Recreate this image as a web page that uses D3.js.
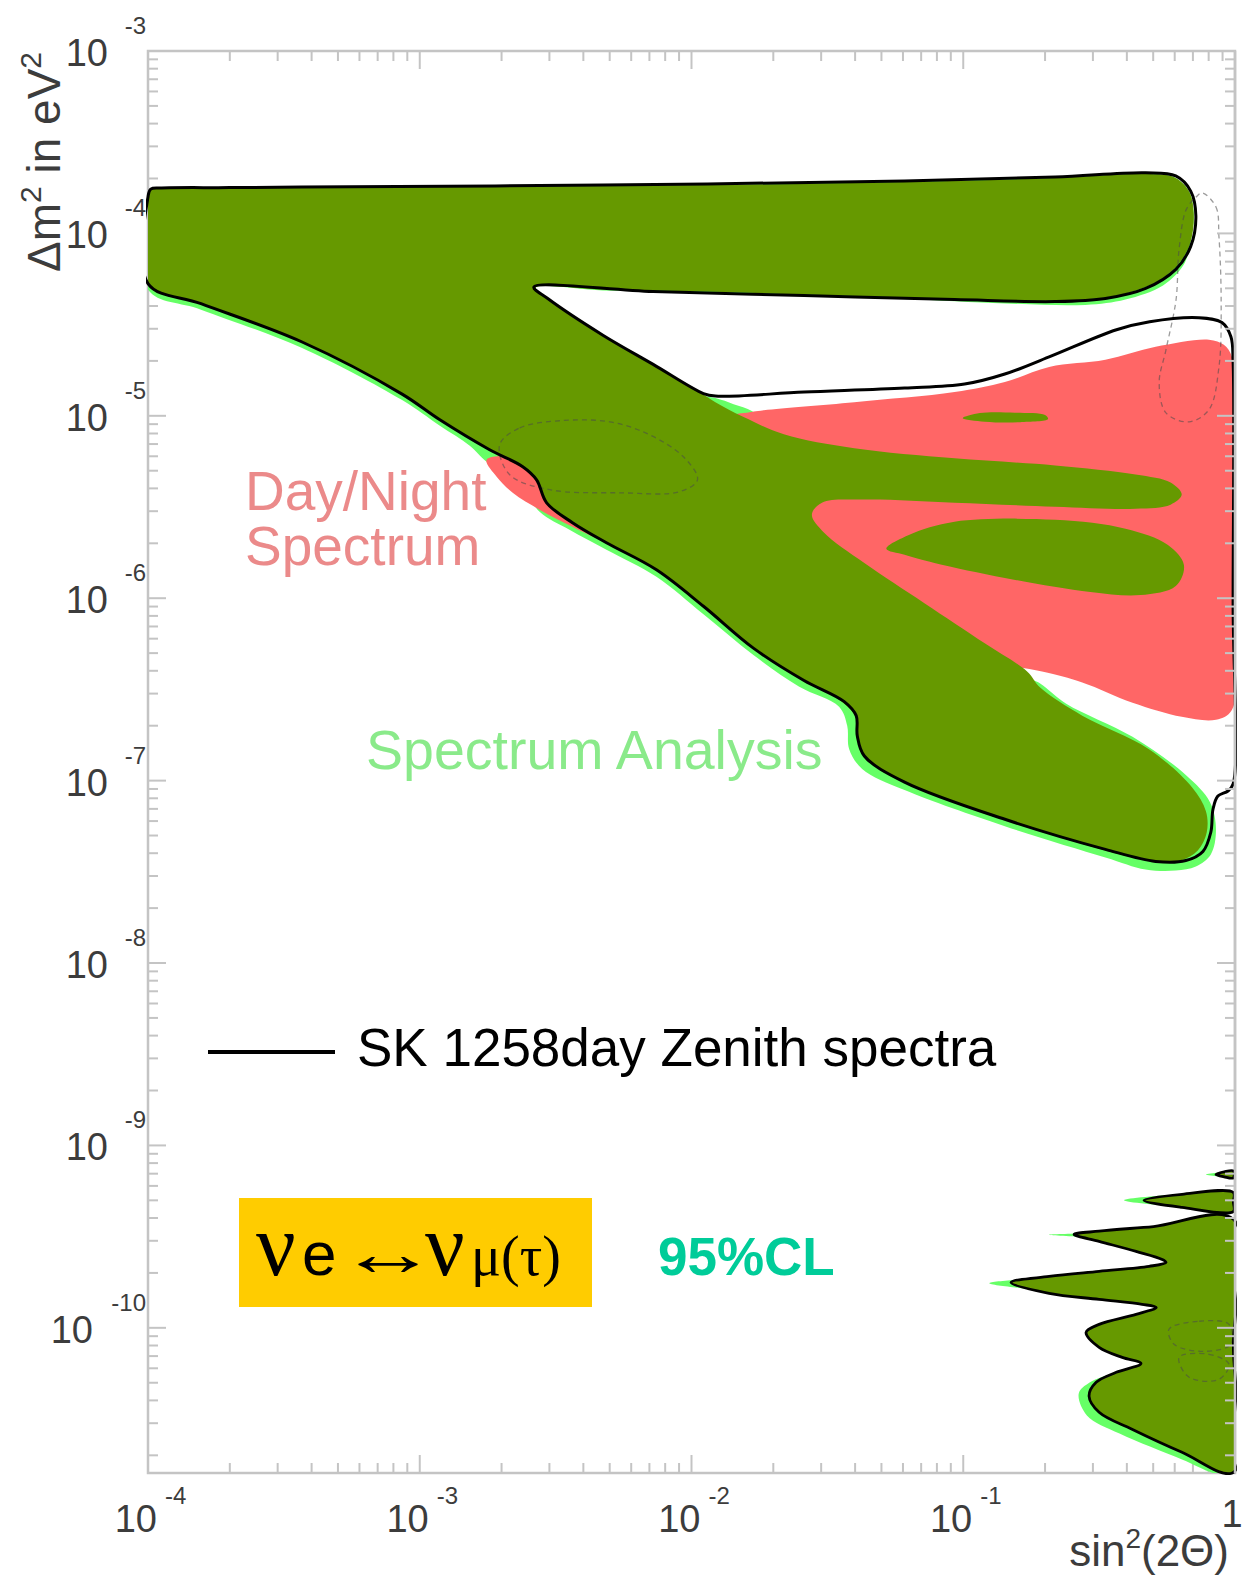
<!DOCTYPE html>
<html>
<head>
<meta charset="utf-8">
<script src="https://cdn.jsdelivr.net/npm/d3@7"></script>
<style>
  html, body { margin: 0; padding: 0; background: #fff; }
  svg { display: block; }
  text { font-family: "Liberation Sans", Arial, sans-serif; }
</style>
</head>
<body>
<svg id="chart" width="1244" height="1577"></svg>
<script>
// ---- axis ranges -------------------------------------------------------
const xDomain = [1e-4, 1];          // sin²(2Θ)
const yDomain = [1.6e-11, 1e-3];    // Δm² in eV²
const xDecades = [-4, -3, -2, -1, 0];
const yDecades = [-3, -4, -5, -6, -7, -8, -9, -10];

// ---- allowed-region contours, vertices as [log10 sin²2Θ, log10 Δm²] ----
// Spectrum analysis, outer (light green) boundary
const spectrumLight = [
  [-4.000,-3.790],[-3.985,-3.758],[-3.950,-3.753],[-3.700,-3.750],[-3.435,-3.746],[-1.956,-3.735],
  [-0.662,-3.696],[-0.329,-3.674],[-0.226,-3.691],[-0.170,-3.768],[-0.152,-3.889],[-0.163,-4.043],
  [-0.190,-4.175],[-0.265,-4.285],[-0.403,-4.362],[-0.551,-4.392],[-0.847,-4.384],[-1.216,-4.360],
  [-1.586,-4.341],[-1.956,-4.324],[-2.326,-4.313],[-2.573,-4.297],[-2.529,-4.362],[-2.326,-4.585],
  [-2.141,-4.750],[-2.000,-4.875],[-1.912,-4.903],[-1.845,-4.936],[-1.778,-4.974],[-1.740,-5.030],
  [-1.450,-5.400],[-1.290,-5.696],[-0.773,-6.424],[-0.717,-6.468],[-0.621,-6.578],[-0.377,-6.760],
  [-0.181,-6.969],[-0.092,-7.118],[-0.070,-7.267],[-0.089,-7.405],[-0.144,-7.471],[-0.218,-7.493],
  [-0.329,-7.487],[-0.477,-7.421],[-0.847,-7.250],[-1.216,-7.052],[-1.372,-6.936],[-1.420,-6.826],
  [-1.427,-6.699],[-1.457,-6.595],[-1.605,-6.484],[-1.771,-6.313],[-1.956,-6.088],[-2.129,-5.882],
  [-2.313,-5.734],[-2.449,-5.625],[-2.559,-5.526],[-2.632,-5.378],[-2.754,-5.252],[-2.816,-5.164],
  [-2.926,-5.055],[-3.065,-4.914],[-3.435,-4.627],[-3.805,-4.418],[-4.000,-4.308]
];

// Region allowed by both analyses (dark green)
const spectrumDark = [
  [-4.000,-3.790],[-3.985,-3.758],[-3.950,-3.753],[-3.700,-3.750],[-3.435,-3.746],[-2.695,-3.740],
  [-1.956,-3.735],[-1.216,-3.718],[-0.662,-3.696],[-0.329,-3.674],[-0.226,-3.691],[-0.170,-3.768],
  [-0.152,-3.889],[-0.163,-4.043],[-0.200,-4.153],[-0.274,-4.253],[-0.403,-4.330],[-0.551,-4.363],
  [-0.847,-4.368],[-1.216,-4.352],[-1.586,-4.335],[-1.956,-4.319],[-2.326,-4.308],[-2.573,-4.297],
  [-2.529,-4.357],[-2.326,-4.556],[-2.141,-4.715],[-1.993,-4.848],[-1.912,-4.925],[-1.808,-5.007],
  [-1.660,-5.101],[-1.401,-5.178],[-1.032,-5.233],[-0.662,-5.272],[-0.366,-5.322],[-0.237,-5.366],
  [-0.196,-5.432],[-0.237,-5.487],[-0.366,-5.509],[-0.662,-5.498],[-1.032,-5.476],[-1.364,-5.459],
  [-1.520,-5.476],[-1.557,-5.542],[-1.512,-5.641],[-1.364,-5.807],[-1.143,-6.027],[-0.921,-6.247],
  [-0.765,-6.402],[-0.717,-6.490],[-0.562,-6.644],[-0.318,-6.826],[-0.159,-7.035],[-0.107,-7.168],
  [-0.104,-7.283],[-0.137,-7.383],[-0.200,-7.438],[-0.292,-7.443],[-0.477,-7.383],[-0.847,-7.212],
  [-1.216,-7.008],[-1.364,-6.865],[-1.390,-6.754],[-1.394,-6.655],[-1.446,-6.567],[-1.586,-6.446],
  [-1.771,-6.275],[-1.956,-6.044],[-2.129,-5.844],[-2.313,-5.696],[-2.438,-5.586],[-2.533,-5.477],
  [-2.570,-5.351],[-2.621,-5.279],[-2.743,-5.186],[-2.926,-5.022],[-3.065,-4.881],[-3.435,-4.594],
  [-3.805,-4.385],[-4.000,-4.275]
];

// Day/Night spectrum region (red)
const dayNight = [
  [-2.754,-5.241],[-2.717,-5.334],[-2.658,-5.422],[-2.559,-5.515],[-2.438,-5.608],[-2.320,-5.690],
  [-1.586,-6.082],[-0.995,-6.330],[-0.710,-6.402],[-0.562,-6.462],[-0.377,-6.573],[-0.196,-6.650],
  [-0.070,-6.666],[-0.011,-6.611],[-0.003,-6.027],[-0.003,-4.925],[-0.011,-4.677],[-0.041,-4.611],
  [-0.096,-4.583],[-0.292,-4.622],[-0.477,-4.693],[-0.684,-4.732],[-0.847,-4.815],[-1.032,-4.870],
  [-1.401,-4.925],[-1.734,-4.969],[-1.808,-4.985],[-2.178,-5.063],[-2.621,-5.211]
];

// Overlap islands inside the Day/Night region
const overlapIsland = [
  [-1.283,-5.729],[-1.198,-5.652],[-1.032,-5.581],[-0.662,-5.570],[-0.403,-5.619],[-0.248,-5.707],
  [-0.188,-5.818],[-0.218,-5.933],[-0.348,-5.983],[-0.532,-5.966],[-0.847,-5.889],[-1.106,-5.807],
  [-1.216,-5.762]
];
const overlapSliver = [
  [-1.002,-5.013],[-0.939,-4.985],[-0.810,-4.983],[-0.699,-4.996],[-0.688,-5.018],[-0.791,-5.035],[-0.921,-5.032]
];

// SK 1258 day zenith-spectra contour (black line)
const zenithContour = [
  [-4.000,-3.800],[-3.990,-3.757],[-3.950,-3.751],[-3.700,-3.749],[-3.435,-3.746],[-2.326,-3.735],
  [-1.216,-3.713],[-0.662,-3.691],[-0.329,-3.668],[-0.218,-3.685],[-0.163,-3.768],[-0.144,-3.905],
  [-0.163,-4.071],[-0.218,-4.197],[-0.329,-4.302],[-0.477,-4.357],[-0.662,-4.374],[-1.032,-4.363],
  [-1.586,-4.341],[-2.141,-4.319],[-2.580,-4.294],[-2.529,-4.357],[-2.326,-4.558],[-2.141,-4.718],
  [-1.956,-4.878],[-1.912,-4.892],[-1.586,-4.870],[-1.216,-4.848],[-0.995,-4.826],[-0.847,-4.771],
  [-0.684,-4.677],[-0.436,-4.528],[-0.314,-4.484],[-0.133,-4.462],[-0.048,-4.489],[-0.015,-4.567],
  [-0.007,-4.704],[-0.007,-6.027],[-0.007,-7.019],[-0.026,-7.057],[-0.063,-7.085],[-0.081,-7.157],
  [-0.089,-7.283],[-0.118,-7.388],[-0.181,-7.438],[-0.292,-7.443],[-0.477,-7.377],[-0.847,-7.212],
  [-1.216,-7.008],[-1.364,-6.865],[-1.390,-6.754],[-1.394,-6.644],[-1.438,-6.567],[-1.586,-6.451],
  [-1.771,-6.275],[-1.956,-6.044],[-2.129,-5.844],[-2.313,-5.696],[-2.438,-5.586],[-2.533,-5.477],
  [-2.570,-5.351],[-2.621,-5.279],[-2.743,-5.186],[-2.926,-5.022],[-3.065,-4.881],[-3.435,-4.594],
  [-3.805,-4.385],[-4.000,-4.275]
];

// Low-Δm² (vacuum oscillation) lobes near maximal mixing
const lobesLight = [
  [[-0.006,-9.140],[-0.060,-9.148],[-0.107,-9.159],[-0.060,-9.170],[-0.006,-9.178]],
  [[-0.006,-9.258],[-0.200,-9.268],[-0.408,-9.301],[-0.200,-9.338],[-0.006,-9.362],[-0.006,-9.310]],
  [[-0.006,-9.405],[-0.300,-9.445],[-0.550,-9.480],[-0.684,-9.490],[-0.550,-9.505],[-0.450,-9.530],
   [-0.364,-9.581],[-0.268,-9.625],[-0.254,-9.641],[-0.316,-9.663],[-0.500,-9.690],[-0.750,-9.730],
   [-0.904,-9.755],[-0.750,-9.790],[-0.600,-9.830],[-0.500,-9.844],[-0.342,-9.871],[-0.290,-9.888],
   [-0.364,-9.926],[-0.500,-9.981],[-0.548,-10.025],[-0.500,-10.107],[-0.415,-10.162],[-0.346,-10.195],
   [-0.437,-10.244],[-0.535,-10.300],[-0.575,-10.360],[-0.545,-10.480],[-0.425,-10.580],[-0.195,-10.722],
   [-0.070,-10.800],[-0.006,-10.800],[-0.006,-10.100]]
];
const lobesDark = [
  [[-0.006,-9.140],[-0.040,-9.145],[-0.070,-9.159],[-0.040,-9.172],[-0.006,-9.178]],
  [[-0.006,-9.258],[-0.195,-9.268],[-0.335,-9.301],[-0.195,-9.340],[-0.006,-9.362],[-0.006,-9.310]],
  [[-0.006,-9.405],[-0.300,-9.445],[-0.500,-9.470],[-0.592,-9.488],[-0.500,-9.526],[-0.364,-9.581],
   [-0.268,-9.625],[-0.254,-9.641],[-0.316,-9.663],[-0.500,-9.690],[-0.684,-9.718],[-0.824,-9.751],
   [-0.684,-9.811],[-0.500,-9.844],[-0.342,-9.871],[-0.290,-9.888],[-0.364,-9.926],[-0.500,-9.981],
   [-0.548,-10.025],[-0.500,-10.107],[-0.415,-10.162],[-0.346,-10.195],[-0.437,-10.244],[-0.511,-10.299],
   [-0.537,-10.375],[-0.500,-10.463],[-0.379,-10.556],[-0.195,-10.682],[-0.006,-10.792],[-0.006,-10.100]]
];

// Thin dashed contours
const dashedContours = [
  [[-2.706,-5.159],[-2.632,-5.066],[-2.485,-5.027],[-2.301,-5.033],[-2.154,-5.104],[-2.026,-5.230],
   [-1.978,-5.351],[-2.044,-5.416],[-2.265,-5.422],[-2.522,-5.405],[-2.669,-5.323]],
  [[-0.121,-3.778],[-0.070,-3.855],[-0.059,-4.019],[-0.051,-4.364],[-0.059,-4.732],[-0.096,-4.967],
   [-0.169,-5.033],[-0.254,-4.984],[-0.279,-4.819],[-0.254,-4.638],[-0.217,-4.364],[-0.206,-4.090],
   [-0.180,-3.871],[-0.143,-3.800]],
  [[-0.243,-10.008],[-0.132,-9.964],[-0.022,-9.981],[-0.015,-10.090],[-0.114,-10.129],[-0.224,-10.090]],
  [[-0.206,-10.162],[-0.096,-10.145],[-0.022,-10.200],[-0.059,-10.282],[-0.169,-10.271]]
];

// ---- layout ------------------------------------------------------------
const plot = { left: 148, right: 1235, top: 51, bottom: 1473 };
const svg = d3.select("#chart");

const x = d3.scaleLog().domain(xDomain).range([plot.left, plot.right]);
const y = d3.scaleLog().domain(yDomain).range([plot.bottom, plot.top]);

const contour = d3.line()
  .x(p => x(10 ** p[0]))
  .y(p => y(10 ** p[1]))
  .curve(d3.curveCatmullRomClosed.alpha(0.5));

const defs = svg.append("defs");
defs.append("clipPath").attr("id", "plotClip").append("rect")
  .attr("x", plot.left).attr("y", plot.top)
  .attr("width", plot.right - plot.left).attr("height", plot.bottom - plot.top);
defs.append("clipPath").attr("id", "lineClip").append("rect")
  .attr("x", plot.left - 2).attr("y", plot.top - 2)
  .attr("width", plot.right - plot.left + 4).attr("height", plot.bottom - plot.top + 4);

const AXIS = "#c4c4c4";
const LIGHT = "#66ff66", DARK = "#669900", RED = "#ff6666";

// ---- frame and ticks ---------------------------------------------------
function drawTicks(g, sides) {
  const xt = x.ticks();
  const yt = y.ticks();
  const isMajor = v => Math.abs(Math.log10(v) - Math.round(Math.log10(v))) < 1e-9;
  if (sides.includes("bottom") || sides.includes("top")) {
    xt.forEach(v => {
      const len = isMajor(v) ? 18 : 10;
      const px = x(v);
      if (sides.includes("bottom"))
        g.append("line").attr("x1", px).attr("x2", px).attr("y1", plot.bottom).attr("y2", plot.bottom - len);
      if (sides.includes("top"))
        g.append("line").attr("x1", px).attr("x2", px).attr("y1", plot.top).attr("y2", plot.top + len);
    });
  }
  yt.filter(v => v >= yDomain[0] && v <= yDomain[1]).forEach(v => {
    const len = isMajor(v) ? 18 : 10;
    const py = y(v);
    if (sides.includes("left"))
      g.append("line").attr("x1", plot.left).attr("x2", plot.left + len).attr("y1", py).attr("y2", py);
    if (sides.includes("right"))
      g.append("line").attr("x1", plot.right).attr("x2", plot.right - len).attr("y1", py).attr("y2", py);
  });
}

const under = svg.append("g").attr("stroke", AXIS).attr("stroke-width", 2).attr("fill", "none");
under.append("rect").attr("x", plot.left).attr("y", plot.top)
  .attr("width", plot.right - plot.left).attr("height", plot.bottom - plot.top)
  .attr("stroke-width", 2.5);
drawTicks(under, ["bottom", "top", "left"]);

// ---- filled regions ----------------------------------------------------
const fills = svg.append("g").attr("clip-path", "url(#plotClip)");
fills.append("path").attr("d", contour(spectrumLight)).attr("fill", LIGHT);
lobesLight.forEach(l => fills.append("path").attr("d", contour(l)).attr("fill", LIGHT));
fills.append("path").attr("d", contour(dayNight)).attr("fill", RED);
fills.append("path").attr("d", contour(spectrumDark)).attr("fill", DARK);
fills.append("path").attr("d", contour(overlapIsland)).attr("fill", DARK);
fills.append("path").attr("d", contour(overlapSliver)).attr("fill", DARK);
lobesDark.forEach(l => fills.append("path").attr("d", contour(l)).attr("fill", DARK));

dashedContours.forEach(c => fills.append("path").attr("d", contour(c))
  .attr("fill", "none").attr("stroke", "#4a4a4a").attr("stroke-opacity", 0.55)
  .attr("stroke-width", 1.3).attr("stroke-dasharray", "5 4"));

// ---- zenith spectra contour -------------------------------------------
const lines = svg.append("g").attr("clip-path", "url(#lineClip)")
  .attr("fill", "none").attr("stroke", "#000").attr("stroke-width", 3).attr("stroke-linejoin", "round");
lines.append("path").attr("d", contour(zenithContour));
lobesDark.forEach(l => lines.append("path").attr("d", contour(l)).attr("stroke-width", 2.8));

// right-hand ticks sit above the regions
const over = svg.append("g").attr("stroke", AXIS).attr("stroke-width", 2);
over.append("line").attr("x1", plot.right).attr("x2", plot.right).attr("y1", plot.top).attr("y2", plot.bottom)
  .attr("stroke-width", 2.5);
drawTicks(over, ["right"]);

// ---- tick labels -------------------------------------------------------
const LABEL = "#3c3c3c";
const labels = svg.append("g").attr("fill", LABEL);
xDecades.forEach(k => {
  const px = x(10 ** k);
  if (k === 0) {
    labels.append("text").attr("x", px - 3).attr("y", 1527).attr("text-anchor", "middle")
      .attr("font-size", 38).text("1");
  } else {
    labels.append("text").attr("x", px + 9).attr("y", 1532).attr("text-anchor", "end")
      .attr("font-size", 38).text("10");
    labels.append("text").attr("x", px + 17).attr("y", 1504).attr("text-anchor", "start")
      .attr("font-size", 24).text("-" + Math.abs(k));
  }
});
yDecades.forEach(k => {
  const py = y(10 ** k);
  labels.append("text").attr("x", k <= -10 ? 93 : 108).attr("y", py + 15).attr("text-anchor", "end")
    .attr("font-size", 38).text("10");
  labels.append("text").attr("x", 146).attr("y", py - 17).attr("text-anchor", "end")
    .attr("font-size", 24).text("-" + Math.abs(k));
});

// axis titles
const yTitle = svg.append("text").attr("transform", "translate(60,272) rotate(-90)")
  .attr("font-size", 46).attr("fill", LABEL);
yTitle.append("tspan").text("Δm");
yTitle.append("tspan").attr("font-size", 30).attr("dy", -19).text("2");
yTitle.append("tspan").attr("dy", 19).text(" in eV");
yTitle.append("tspan").attr("font-size", 30).attr("dy", -19).text("2");

const xTitle = svg.append("text").attr("x", 1229).attr("y", 1566).attr("text-anchor", "end")
  .attr("font-size", 44).attr("fill", LABEL);
xTitle.append("tspan").text("sin");
xTitle.append("tspan").attr("font-size", 28).attr("dy", -18).text("2");
xTitle.append("tspan").attr("dy", 18).text("(2Θ)");

// ---- annotations -------------------------------------------------------
const dn = svg.append("text").attr("font-size", 55).attr("fill", "#eb8a8a");
dn.append("tspan").attr("x", 245).attr("y", 510).text("Day/Night");
dn.append("tspan").attr("x", 245).attr("y", 565).text("Spectrum");
svg.append("text").attr("x", 366).attr("y", 769).attr("font-size", 55.5).attr("fill", "#8aea8a")
  .text("Spectrum Analysis");

// legend
svg.append("line").attr("x1", 208).attr("x2", 335).attr("y1", 1052).attr("y2", 1052)
  .attr("stroke", "#000").attr("stroke-width", 4);
svg.append("text").attr("x", 357).attr("y", 1066).attr("font-size", 53).attr("fill", "#000")
  .text("SK 1258day Zenith spectra");

// oscillation channel box: νe ↔ νμ(τ)
svg.append("rect").attr("x", 239).attr("y", 1198).attr("width", 353).attr("height", 109).attr("fill", "#ffcc00");
const serif = '"Liberation Serif", "Times New Roman", serif';
const sans = '"Liberation Sans", Arial, sans-serif';
const chan = svg.append("text").attr("y", 1275).attr("fill", "#000");
chan.append("tspan").attr("x", 256).attr("font-family", serif).attr("font-size", 88).text("ν");
chan.append("tspan").attr("x", 302).attr("font-family", sans).attr("font-size", 62).text("e");
chan.append("tspan").attr("x", 338).attr("font-family", serif).attr("font-size", 64)
  .attr("textLength", 100).attr("lengthAdjust", "spacingAndGlyphs").text("↔");
chan.append("tspan").attr("x", 425).attr("font-family", serif).attr("font-size", 88).text("ν");
chan.append("tspan").attr("x", 471).attr("font-family", serif).attr("font-size", 56).text("μ(τ)");

svg.append("text").attr("x", 658).attr("y", 1275).attr("font-size", 53).attr("font-weight", "bold")
  .attr("fill", "#00cc99").text("95%CL");
</script>
</body>
</html>
